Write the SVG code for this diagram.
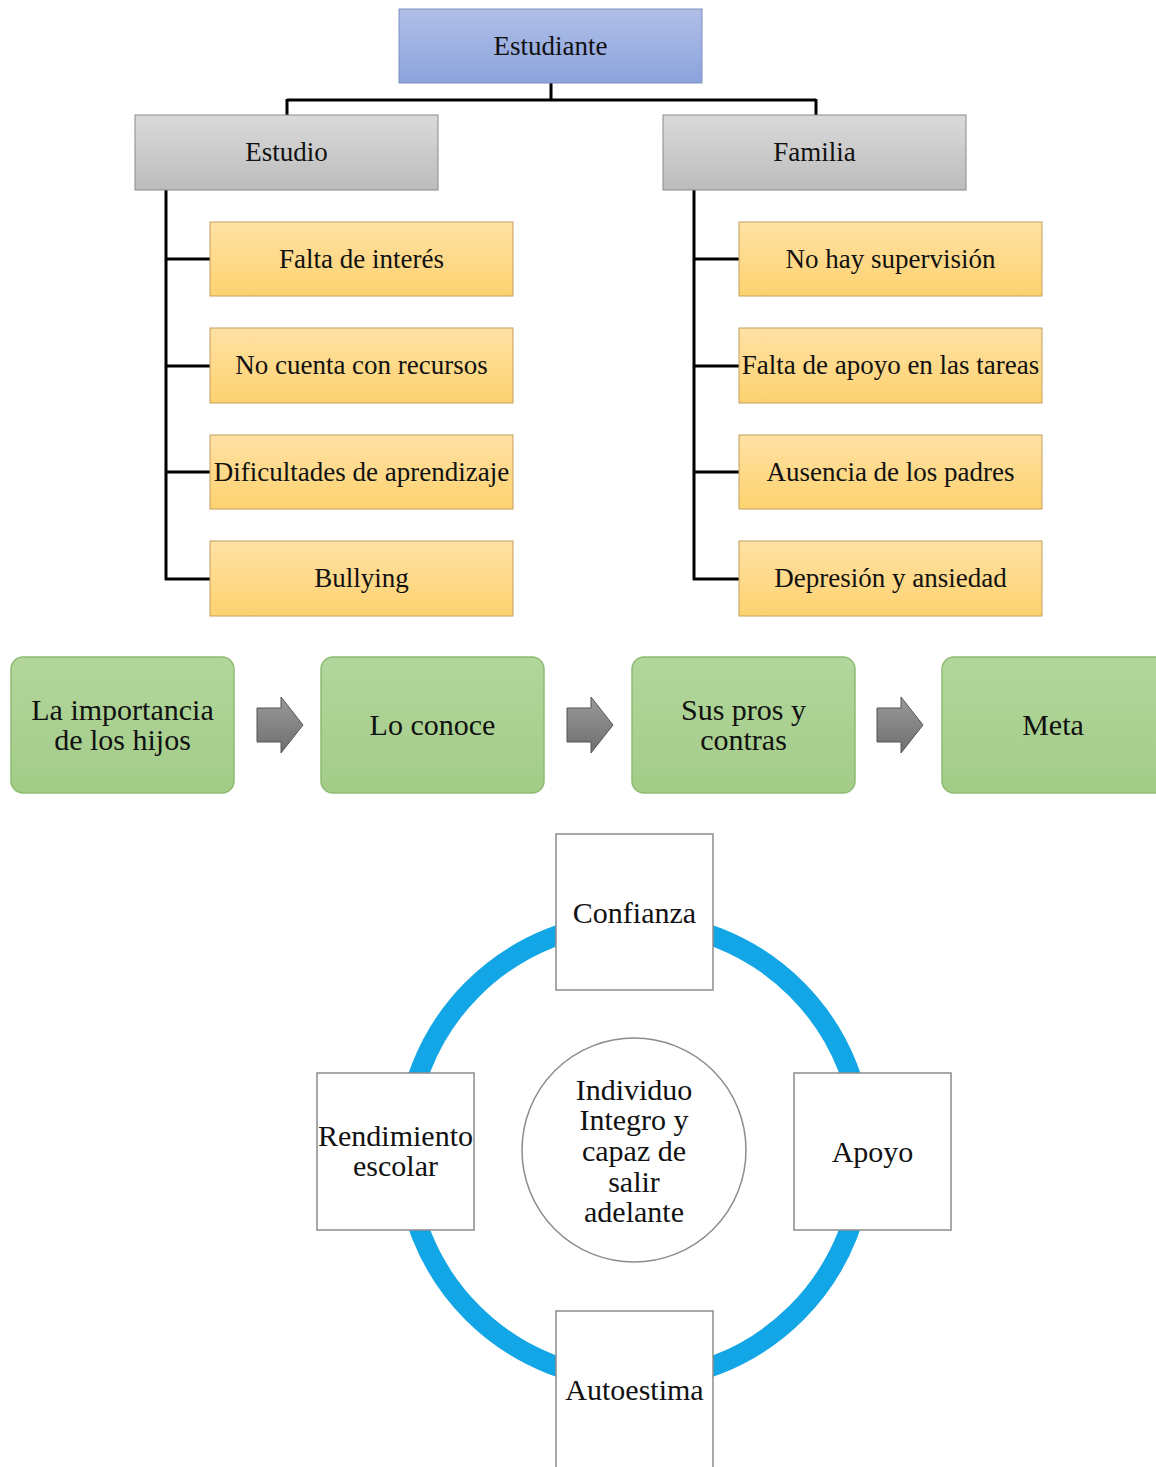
<svg xmlns="http://www.w3.org/2000/svg" width="1156" height="1467" viewBox="0 0 1156 1467">
<defs>
<linearGradient id="gBlue" x1="0" y1="0" x2="0" y2="1"><stop offset="0" stop-color="#b1bfe8"/><stop offset="1" stop-color="#8ba3dc"/></linearGradient>
<linearGradient id="gGray" x1="0" y1="0" x2="0" y2="1"><stop offset="0" stop-color="#dadada"/><stop offset="1" stop-color="#bcbcbc"/></linearGradient>
<linearGradient id="gOrange" x1="0" y1="0" x2="0" y2="1"><stop offset="0" stop-color="#ffe1a4"/><stop offset="1" stop-color="#fdd26f"/></linearGradient>
<linearGradient id="gGreen" x1="0" y1="0" x2="0" y2="1"><stop offset="0" stop-color="#b2d69c"/><stop offset="1" stop-color="#a3cc88"/></linearGradient>
<linearGradient id="gArrow" x1="0" y1="0" x2="0" y2="1"><stop offset="0" stop-color="#9a9a9a"/><stop offset="1" stop-color="#6e6e6e"/></linearGradient>
</defs>
<style>
text{font-family:"Liberation Serif","Times New Roman",serif;fill:#111;text-anchor:middle;dominant-baseline:central}
.t24{font-size:27px}
.t28{font-size:30px}
.blue{fill:url(#gBlue);stroke:#7d8fc0;stroke-width:1}
.gray{fill:url(#gGray);stroke:#8a8a8a;stroke-width:1}
.org{fill:url(#gOrange);stroke:#c2a060;stroke-width:1}
.grn{fill:url(#gGreen);stroke:#8dbc72;stroke-width:1.5}
.wbox{fill:#fff;stroke:#8c8c8c;stroke-width:1.5}
.conn{fill:none;stroke:#000;stroke-width:3}
.arr{fill:url(#gArrow);stroke:#555;stroke-width:1}
</style>

<g id="connectors">
<path class="conn" d="M551,83 V100 M287,100 H816 M287,99 V115 M816,99 V115"/>
<path class="conn" d="M166,190 V580 M165,259 H210 M165,366 H210 M165,472 H210 M165,579 H210"/>
<path class="conn" d="M694,190 V580 M693,259 H739 M693,366 H739 M693,472 H739 M693,579 H739"/>
<path class="arr" d="M257,708 H281 V697 L303,725 L281,753 V742 H257 Z"/>
<path class="arr" d="M567,708 H591 V697 L613,725 L591,753 V742 H567 Z"/>
<path class="arr" d="M877,708 H901 V697 L923,725 L901,753 V742 H877 Z"/>
<circle cx="634.5" cy="1151" r="229" fill="none" stroke="#12a6e6" stroke-width="20"/>
</g>

<g id="estudiante"><rect class="blue" x="399" y="9" width="303" height="74"/><text class="t24" x="550.5" y="46">Estudiante</text></g>
<g id="estudio"><rect class="gray" x="135" y="115" width="303" height="75"/><text class="t24" x="286.5" y="152">Estudio</text></g>
<g id="familia"><rect class="gray" x="663" y="115" width="303" height="75"/><text class="t24" x="814.5" y="152">Familia</text></g>

<g id="e1"><rect class="org" x="210" y="222" width="303" height="74"/><text class="t24" x="361.5" y="259">Falta de interés</text></g>
<g id="e2"><rect class="org" x="210" y="328" width="303" height="75"/><text class="t24" x="361.5" y="365">No cuenta con recursos</text></g>
<g id="e3"><rect class="org" x="210" y="435" width="303" height="74"/><text class="t24" x="361.5" y="472">Dificultades de aprendizaje</text></g>
<g id="e4"><rect class="org" x="210" y="541" width="303" height="75"/><text class="t24" x="361.5" y="578">Bullying</text></g>

<g id="f1"><rect class="org" x="739" y="222" width="303" height="74"/><text class="t24" x="890.5" y="259">No hay supervisión</text></g>
<g id="f2"><rect class="org" x="739" y="328" width="303" height="75"/><text class="t24" x="890.5" y="365">Falta de apoyo en las tareas</text></g>
<g id="f3"><rect class="org" x="739" y="435" width="303" height="74"/><text class="t24" x="890.5" y="472">Ausencia de los padres</text></g>
<g id="f4"><rect class="org" x="739" y="541" width="303" height="75"/><text class="t24" x="890.5" y="578">Depresión y ansiedad</text></g>

<g id="g1"><rect class="grn" x="11" y="657" width="223" height="136" rx="12"/><text class="t28" x="122.5" y="709">La importancia</text><text class="t28" x="122.5" y="739">de los hijos</text></g>
<g id="g2"><rect class="grn" x="321" y="657" width="223" height="136" rx="12"/><text class="t28" x="432.5" y="724">Lo conoce</text></g>
<g id="g3"><rect class="grn" x="632" y="657" width="223" height="136" rx="12"/><text class="t28" x="743.5" y="709">Sus pros y</text><text class="t28" x="743.5" y="739">contras</text></g>
<g id="g4"><rect class="grn" x="942" y="657" width="230" height="136" rx="12"/><text class="t28" x="1053" y="724">Meta</text></g>

<g id="confianza"><rect class="wbox" x="556" y="834" width="157" height="156"/><text class="t28" x="634.5" y="912">Confianza</text></g>
<g id="apoyo"><rect class="wbox" x="794" y="1073" width="157" height="157"/><text class="t28" x="872.5" y="1151">Apoyo</text></g>
<g id="rendimiento"><rect class="wbox" x="317" y="1073" width="157" height="157"/><text class="t28" x="395.5" y="1135">Rendimiento</text><text class="t28" x="395.5" y="1165">escolar</text></g>
<g id="autoestima"><rect class="wbox" x="556" y="1311" width="157" height="170"/><text class="t28" x="634.5" y="1389">Autoestima</text></g>
<g id="individuo"><circle cx="634" cy="1150" r="112" fill="#fff" stroke="#8c8c8c" stroke-width="1.5"/>
<text class="t28" x="634" y="1089">Individuo</text><text class="t28" x="634" y="1119">Integro y</text><text class="t28" x="634" y="1150">capaz de</text><text class="t28" x="634" y="1181">salir</text><text class="t28" x="634" y="1211">adelante</text></g>
</svg>
